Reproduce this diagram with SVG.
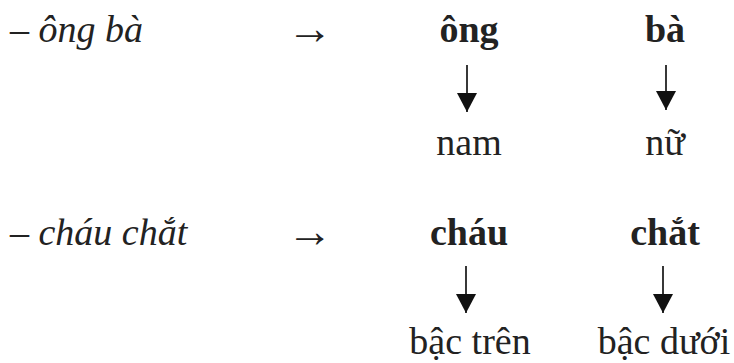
<svg xmlns="http://www.w3.org/2000/svg" width="734" height="363" viewBox="0 0 734 363">
<defs>
<style>
text{font-family:"Liberation Serif","Times New Roman",serif;font-size:38px;fill:#222}
.it{font-style:italic}
.b{font-weight:bold}
.c{text-anchor:middle}
.arr{font-size:46px}
.conn line{stroke:#222;stroke-width:1.8}
</style>
<marker id="ad" markerUnits="userSpaceOnUse" markerWidth="20" markerHeight="20" viewBox="0 0 20 20" refX="10" refY="20" orient="0">
<path d="M0,1 L20,1 L10,20 Z" fill="#111"/>
</marker>
</defs>
<rect width="734" height="363" fill="#fff"/>
<g id="row1-label"><text class="it" x="10" y="42">– ông bà</text></g>
<g id="row1-arrow"><text class="c arr" x="310" y="44">→</text></g>
<g id="ong"><text class="b c" x="469" y="42">ông</text></g>
<g id="ba"><text class="b c" x="665" y="42">bà</text></g>
<g id="nam"><text class="c" x="469" y="155">nam</text></g>
<g id="nu"><text class="c" x="665" y="155">nữ</text></g>
<g id="row2-label"><text class="it" x="10" y="245">– cháu chắt</text></g>
<g id="row2-arrow"><text class="c arr" x="310" y="247">→</text></g>
<g id="chau"><text class="b c" x="469" y="245">cháu</text></g>
<g id="chat"><text class="b c" x="665" y="245">chắt</text></g>
<g id="bac-tren"><text class="c" x="470" y="354">bậc trên</text></g>
<g id="bac-duoi"><text class="c" x="664" y="354">bậc dưới</text></g>
<g id="connectors" class="conn">
<line x1="467" y1="65" x2="467" y2="112" marker-end="url(#ad)"/>
<line x1="666" y1="65" x2="666" y2="110" marker-end="url(#ad)"/>
<line x1="466" y1="266" x2="466" y2="313" marker-end="url(#ad)"/>
<line x1="663" y1="266" x2="663" y2="313" marker-end="url(#ad)"/>
</g>
</svg>
